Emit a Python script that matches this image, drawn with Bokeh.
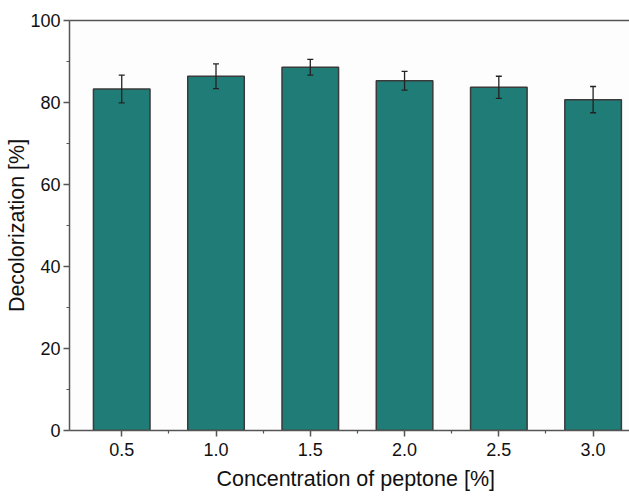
from bokeh.plotting import figure
from bokeh.models import (ColumnDataSource, Whisker, TeeHead, FixedTicker, LinearAxis,
                          Range1d, NumeralTickFormatter, Title)
from bokeh.embed import file_html
from bokeh.resources import INLINE

# data
concentration = [0.5, 1.0, 1.5, 2.0, 2.5, 3.0]
decolorization = [83.3, 86.4, 88.6, 85.3, 83.7, 80.7]
error = [3.4, 3.0, 1.9, 2.3, 2.7, 3.2]
x_ticks = [0.5, 1.0, 1.5, 2.0, 2.5, 3.0]
x_minor = [0.75, 1.25, 1.75, 2.25, 2.75]
y_ticks = [0, 20, 40, 60, 80, 100]
y_minor = [10, 30, 50, 70, 90]
x_label = "Concentration of peptone [%]"
y_label = "Decolorization [%]"

upper = [v + e for v, e in zip(decolorization, error)]
lower = [v - e for v, e in zip(decolorization, error)]
src = ColumnDataSource(dict(x=concentration, y=decolorization, upper=upper, lower=lower))

FONT = "Liberation Sans"
AX = "#555555"

p = figure(width=629, height=497, output_backend="svg", toolbar_location=None,
           x_range=Range1d(0.223, 3.193), y_range=Range1d(0, 100),
           min_border_left=69, min_border_right=0, min_border_top=20, min_border_bottom=67)
p.outline_line_color = None
p.grid.grid_line_color = None
p.background_fill_color = "#fdfdfd"

p.vbar(x="x", top="y", width=0.3, bottom=0, source=src,
       fill_color="#1f7c77", line_color="#3a3a3a", line_width=1.5)

w = Whisker(base="x", upper="upper", lower="lower", source=src, level="overlay",
            line_color="#222222", line_width=1.3,
            upper_head=TeeHead(size=6, line_color="#222222", line_width=1.3),
            lower_head=TeeHead(size=6, line_color="#222222", line_width=1.3))
p.add_layout(w)

xa = p.xaxis[0]
xa.ticker = FixedTicker(ticks=x_ticks, minor_ticks=x_minor)
xa.formatter = NumeralTickFormatter(format="0.0")
ya = p.yaxis[0]
ya.ticker = FixedTicker(ticks=y_ticks, minor_ticks=y_minor)
ya.axis_label = y_label

for a in (xa, ya):
    a.axis_line_color = AX
    a.axis_line_width = 1.5
    a.major_tick_line_color = AX
    a.minor_tick_line_color = AX
    a.major_tick_line_width = 1.5
    a.minor_tick_line_width = 1.2
    a.major_tick_in = 0
    a.minor_tick_in = 0
    a.major_tick_out = 6
    a.minor_tick_out = 3
    a.major_label_text_font = FONT
    a.major_label_text_font_size = "18px"
    a.major_label_text_color = "#111111"
    a.axis_label_text_font = FONT
    a.axis_label_text_font_size = "21.5px"
    a.axis_label_text_font_style = "normal"
    a.axis_label_text_color = "#111111"

xa.major_label_standoff = 6
ya.major_label_standoff = 3
ya.axis_label_standoff = -2

xt = Title(text=x_label, align="left", offset=147, standoff=13,
           text_font=FONT, text_font_size="21.5px", text_font_style="normal",
           text_color="#111111")
p.add_layout(xt, "below")

top = LinearAxis(ticker=FixedTicker(ticks=[]), axis_line_color=AX, axis_line_width=1.5,
                 major_tick_line_color=None, minor_tick_line_color=None,
                 major_label_text_font_size="0px")
p.add_layout(top, "above")

open("out.html", "w").write(file_html(p, INLINE))
